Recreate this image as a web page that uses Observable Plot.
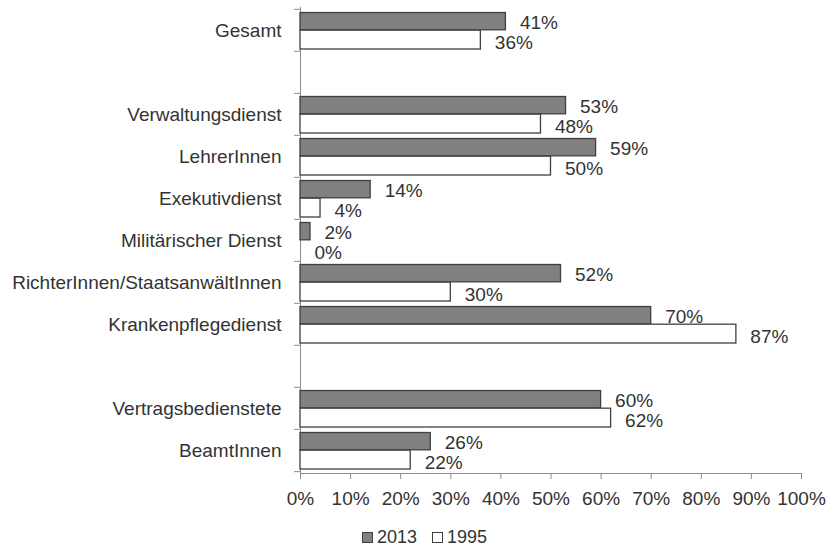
<!DOCTYPE html>
<html><head><meta charset="utf-8">
<script src="https://cdn.jsdelivr.net/npm/d3@7"></script>
<script src="https://cdn.jsdelivr.net/npm/@observablehq/plot@0.6"></script>
<style>
body{margin:0;background:#fff;font-family:"Liberation Sans",Arial,sans-serif;}
#chart svg{display:block;}
#legend{position:absolute;top:527px;left:362px;height:20px;display:flex;align-items:center;font-size:18px;color:#333;line-height:20px;}
#legend .sw{width:9px;height:9px;border:1px solid #404040;margin-right:4px;box-sizing:content-box;}
#legend .lab{margin-right:15px;}
</style></head><body>
<div id="chart"></div>
<div id="legend"></div>
<script>
const categories = ["Gesamt","Verwaltungsdienst","LehrerInnen","Exekutivdienst","Militärischer Dienst","RichterInnen/StaatsanwältInnen","Krankenpflegedienst","Vertragsbedienstete","BeamtInnen"];
const rowOrder = ["Gesamt","gap1","Verwaltungsdienst","LehrerInnen","Exekutivdienst","Militärischer Dienst","RichterInnen/StaatsanwältInnen","Krankenpflegedienst","gap2","Vertragsbedienstete","BeamtInnen"];
const years = ["2013","1995"];
const values2013 = [41,53,59,14,2,52,70,60,26];
const values1995 = [36,48,50,4,0,30,87,62,22];
const xTicks = [0,10,20,30,40,50,60,70,80,90,100];
const yearColors = {"2013":"#808080","1995":"#ffffff"};

const d2013 = categories.map((c,i)=>({cat:c, year:years[0], value:values2013[i]}));
const d1995 = categories.map((c,i)=>({cat:c, year:years[1], value:values1995[i]}));

const W=828, H=510, mt=7, mb=37, ml=300, mr=27;
const bw = (H-mt-mb)/rowOrder.length;
const axisGray = "#8c8c8c";
const textCol = "#333";
const barStroke = "#404040";
const fs = 19;

const chart = Plot.plot({
  width: W, height: H,
  marginTop: mt, marginBottom: mb, marginLeft: ml, marginRight: mr,
  style: {fontFamily: "'Liberation Sans', Arial, sans-serif", fontSize: fs + "px", color: textCol, background: "#fff", overflow: "visible"},
  x: {domain: [0,100], label: null},
  y: {domain: rowOrder, padding: 0, label: null},
  marks: [
    Plot.ruleX([0], {stroke: axisGray}),
    Plot.frame({anchor: "bottom", stroke: axisGray}),
    Plot.axisX({ticks: xTicks, tickFormat: d => d + "%", tickSize: 6, tickPadding: 12, stroke: axisGray, fill: textCol, fontSize: fs, label: null}),
    Plot.axisY({tickSize: 0, tickPadding: 19, tickFormat: d => d.startsWith("gap") ? "" : d, fill: textCol, fontSize: fs, label: null}),
    Plot.axisY({tickSize: 6, tickFormat: () => "", dy: -bw/2, stroke: axisGray, label: null}),
    Plot.axisY({ticks: [rowOrder[rowOrder.length-1]], tickSize: 6, tickFormat: () => "", dy: bw/2, stroke: axisGray, label: null}),
    Plot.barX(d2013, {x: "value", y: "cat", fill: yearColors["2013"], stroke: barStroke, strokeWidth: 1.3, insetTop: 3.5, insetBottom: bw/2}),
    Plot.barX(d1995.filter(d => d.value > 0), {x: "value", y: "cat", fill: yearColors["1995"], stroke: barStroke, strokeWidth: 1.3, insetTop: bw/2, insetBottom: 2}),
    Plot.text(d2013, {x: "value", y: "cat", text: d => d.value + "%", dx: 14, dy: -7.5, textAnchor: "start", fill: textCol, fontSize: fs}),
    Plot.text(d1995, {x: "value", y: "cat", text: d => d.value + "%", dx: 14, dy: 12.5, textAnchor: "start", fill: textCol, fontSize: fs})
  ]
});
document.getElementById("chart").appendChild(chart);

const lg = document.getElementById("legend");
years.forEach(y => {
  const sw = document.createElement("span"); sw.className = "sw"; sw.style.background = yearColors[y];
  const t = document.createElement("span"); t.className = "lab"; t.textContent = y;
  lg.appendChild(sw); lg.appendChild(t);
});
</script>
</body></html>
